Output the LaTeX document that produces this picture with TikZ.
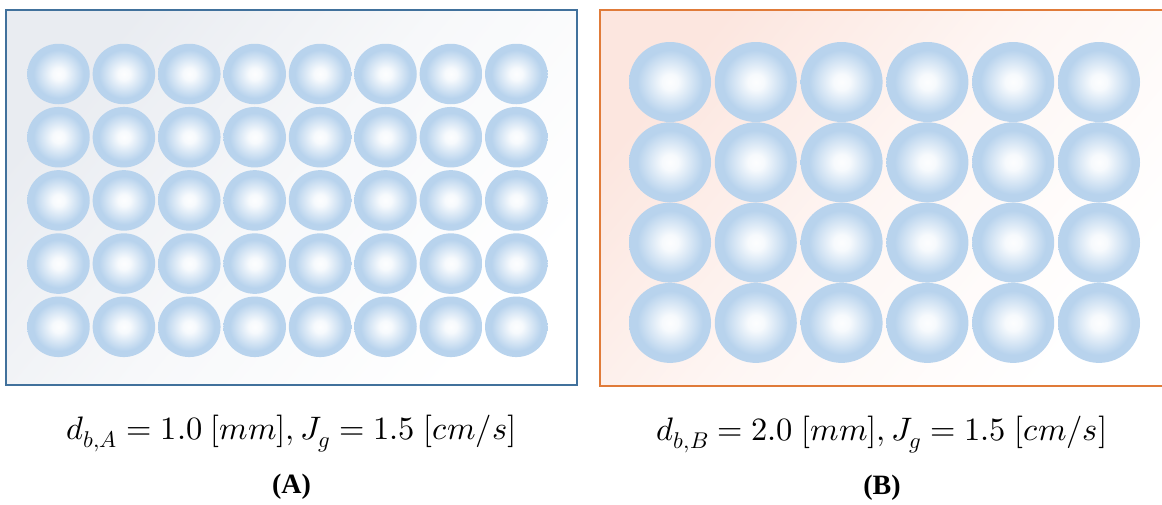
\documentclass[tikz,border=0pt]{standalone}
\usepackage{amsmath}
\usepackage{unicode-math}
\setmainfont{Liberation Serif}
\setmathfont{Latin Modern Math}
\usetikzlibrary{positioning,shapes.geometric}

\definecolor{frameA}{HTML}{41719C}
\definecolor{frameB}{HTML}{E07B39}
\definecolor{tintA}{HTML}{E9ECF1}
\definecolor{tintB}{HTML}{FCE6DF}
\definecolor{bubble}{HTML}{B8D3ED}

\pgfdeclareradialshading{bubshade}{\pgfpoint{0bp}{0bp}}{%
  color(0bp)=(white!97!bubble); color(5bp)=(white!88!bubble);
  color(20bp)=(bubble); color(25bp)=(bubble); color(50bp)=(bubble)}

\begin{document}
\begin{tikzpicture}[x=1pt, y=-1pt,
  panel/.style={draw, line width=1.6pt, inner sep=0pt},
  bubA/.style={ellipse, inner sep=0pt, minimum width=62.5pt, minimum height=60.5pt, shading=bubshade},
  bubB/.style={ellipse, inner sep=0pt, minimum width=82pt, minimum height=80pt, shading=bubshade},
  lab/.style={inner sep=0pt, font=\fontsize{32.5}{38}\selectfont},
  tag/.style={inner sep=0pt, font=\fontsize{28}{34}\selectfont\bfseries}
]
\useasboundingbox (0,0) rectangle (1162,504);

% two containers
\node[panel, frameA, top color=tintA, bottom color=white, middle color=tintA!35!white, shading angle=50,
  minimum width=571pt, minimum height=375pt] (boxA) at (291.5,197.5) {};
\node[panel, frameB, top color=tintB, bottom color=white, middle color=tintB!35!white, shading angle=50,
  minimum width=564pt, minimum height=376pt] (boxB) at (882,198) {};

% small bubbles
\foreach \r in {0,...,4}
  \foreach \c in {0,...,7}
    \node[bubA] (a-\r-\c) at (58.5+65.4*\c, 74+63.2*\r) {};

% large bubbles
\foreach \r in {0,...,3}
  \foreach \c in {0,...,5}
    \node[bubB] (b-\r-\c) at (670+85.8*\c, 82+80.3*\r) {};

\node[lab, below=29pt of boxA] (labA) {$d_{b,A} = 1.0\ [mm], J_g = 1.5\ [cm/s]$};
\node[lab, below=29pt of boxB] (labB) {$d_{b,B} = 2.0\ [mm], J_g = 1.5\ [cm/s]$};
\node[tag, below=22pt of labA] (tagA) {(A)};
\node[tag, below=22pt of labB] (tagB) {(B)};
\end{tikzpicture}
\end{document}
